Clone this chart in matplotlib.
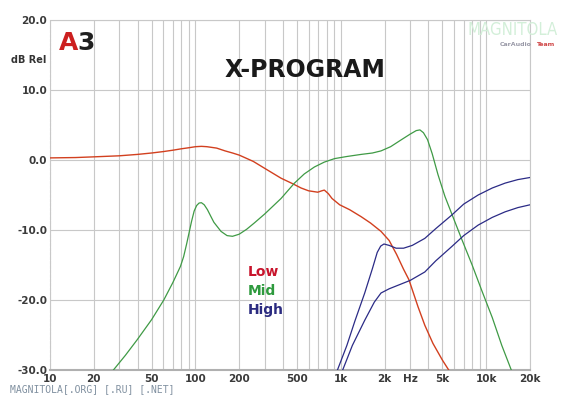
import matplotlib
matplotlib.use("Agg")
import matplotlib.pyplot as plt
from matplotlib.ticker import FixedLocator, NullFormatter

# DATA
low_f = [10, 15, 20, 30, 40, 50, 60, 70, 80, 90, 100, 110, 120, 140, 160, 180, 200,
         250, 300, 388, 468, 533, 600, 694, 740, 770, 820, 870, 982, 1150, 1380, 1600,
         1890, 2150, 2420, 2700, 2940, 3400, 3780, 4300, 5000, 5600]
low_db = [0.3, 0.35, 0.45, 0.6, 0.8, 1.0, 1.2, 1.4, 1.6, 1.75, 1.9, 1.95, 1.9, 1.7, 1.3,
          1.0, 0.7, -0.2, -1.2, -2.6, -3.4, -4.0, -4.4, -4.6, -4.4, -4.3, -4.8, -5.5, -6.4,
          -7.1, -8.1, -9.0, -10.2, -11.5, -13.5, -15.6, -17.1, -21.0, -23.6, -26.2, -28.6, -30.2]

mid_f = [27.3, 33, 39.7, 50, 60.6, 70, 78.9, 83, 87, 90, 94, 98, 102, 106, 110, 115, 121,
         128, 134, 150, 165, 180, 200, 225, 254, 300, 388, 480, 560, 658, 770, 906, 1100,
         1380, 1650, 1890, 2200, 2610, 3000, 3300, 3500, 3700, 3950, 4250, 4660, 5200,
         5770, 6780, 8000, 9300, 11000, 12800, 15000]
mid_db = [-30, -27.9, -25.7, -22.8, -20.0, -17.5, -15.2, -13.8, -12.0, -10.6, -8.8, -7.3,
          -6.5, -6.15, -6.1, -6.4, -7.1, -8.1, -8.9, -10.2, -10.8, -10.9, -10.6, -9.9, -9.0,
          -7.7, -5.5, -3.3, -2.0, -1.0, -0.3, 0.2, 0.5, 0.8, 1.0, 1.3, 1.9, 2.9, 3.7, 4.2,
          4.3, 3.9, 2.9, 0.9, -2.1, -5.2, -7.6, -11.3, -15.0, -18.6, -22.5, -26.5, -30.2]

high1_f = [948, 1100, 1250, 1460, 1650, 1780, 1880, 1980, 2150, 2400, 2700, 3100, 3780,
           4500, 5770, 7000, 8800, 11000, 13500, 16500, 20000]
high1_db = [-30, -26.5, -23, -19.0, -15.5, -13.2, -12.3, -12.0, -12.2, -12.6, -12.6, -12.2,
            -11.2, -9.8, -7.9, -6.3, -5.0, -4.0, -3.3, -2.8, -2.5]

high2_f = [1030, 1200, 1460, 1700, 1890, 2150, 2470, 3000, 3780, 4500, 5770, 7000, 8800,
           11000, 13500, 16500, 20000]
high2_db = [-30, -26.5, -22.9, -20.3, -19.0, -18.4, -17.9, -17.2, -16.0, -14.4, -12.4, -10.8,
            -9.3, -8.2, -7.4, -6.8, -6.4]

xtick_pos = [10, 20, 50, 100, 200, 500, 1000, 2000, 3000, 5000, 10000, 20000]
xtick_lab = ["10", "20", "50", "100", "200", "500", "1k", "2k", "Hz", "5k", "10k", "20k"]
ytick_pos = [20, 10, 0, -10, -20, -30]
ytick_lab = ["20.0", "10.0", "0.0", "-10.0", "-20.0", "-30.0"]

RED = "#d2401f"
GREEN = "#3f9a45"
BLUE = "#2b2b86"

fig = plt.figure(figsize=(5.73, 3.97), dpi=100)
ax = fig.add_axes([50 / 573, 1 - 370 / 397, 480 / 573, 350 / 397])

ax.set_xscale("log")
ax.set_xlim(10, 20000)
ax.set_ylim(-30, 20)

# grid: every 1-2-3..9 decade line, 10 dB horizontals
minor = []
for dec in [10, 100, 1000, 10000]:
    for m in range(1, 10):
        v = dec * m
        if v <= 20000:
            minor.append(v)
for v in minor:
    ax.axvline(v, color="#c8c8c8", lw=0.8, zorder=0)
for y in ytick_pos:
    ax.axhline(y, color="#c8c8c8", lw=0.8, zorder=0)

ax.plot(low_f, low_db, color=RED, lw=1.0, zorder=3)
ax.plot(mid_f, mid_db, color=GREEN, lw=0.9, zorder=3)
ax.plot(high1_f, high1_db, color=BLUE, lw=0.9, zorder=3)
ax.plot(high2_f, high2_db, color=BLUE, lw=0.9, zorder=3)

ax.xaxis.set_major_locator(FixedLocator(xtick_pos))
ax.xaxis.set_minor_locator(FixedLocator([]))
ax.xaxis.set_minor_formatter(NullFormatter())
ax.set_xticks(xtick_pos)
ax.set_xticklabels(xtick_lab)
ax.set_yticks(ytick_pos)
ax.set_yticklabels(ytick_lab)
ax.tick_params(axis="both", length=0, labelsize=7.5, colors="#3a3a3a", pad=2)
ax.tick_params(axis="x", pad=3)
for lab in ax.get_xticklabels() + ax.get_yticklabels():
    lab.set_fontweight("semibold")

ax.spines["top"].set_color("#c8c8c8")
ax.spines["right"].set_color("#c8c8c8")
ax.spines["bottom"].set_color("#b0b0b0")
ax.spines["bottom"].set_linewidth(1.5)
ax.spines["left"].set_color("#c8c8c8")
ax.spines["left"].set_linestyle((0, (2, 2)))

# texts
fig.text(305 / 573, 1 - 70 / 397, "X-PROGRAM", ha="center", va="center",
         fontsize=17, fontweight="bold", color="#1a1a1a", family="DejaVu Sans")
fig.text(11 / 573, 1 - 60 / 397, "dB Rel", ha="left", va="center", fontsize=7,
         fontweight="bold", color="#333333")
fig.text(59 / 573, 1 - 43 / 397, "A", ha="left", va="center", fontsize=18,
         fontweight="heavy", color="#cc1f1f", family="DejaVu Sans")
fig.text(77 / 573, 1 - 43 / 397, "3", ha="left", va="center", fontsize=18,
         fontweight="heavy", color="#1f1f1f", family="DejaVu Sans")

ax.text(228, -16.0, "Low", color="#c8142c", fontsize=10, fontweight="bold", ha="left", va="center")
ax.text(228, -18.7, "Mid", color="#2e9a3e", fontsize=10, fontweight="bold", ha="left", va="center")
ax.text(228, -21.4, "High", color="#2b2b80", fontsize=10, fontweight="bold", ha="left", va="center")

# watermark
fig.text(513 / 573, 1 - 30 / 397, "MAGNITOLA", ha="center", va="center", fontsize=12,
         color="#d3efd9", family="DejaVu Sans", fontstretch="condensed")
fig.text(532 / 573, 1 - 44 / 397, "CarAudio", ha="right", va="center", fontsize=4.5,
         color="#9a9aa8", fontweight="bold")
fig.text(536 / 573, 1 - 44 / 397, "Team", ha="left", va="center", fontsize=4.5,
         color="#d04848", fontweight="bold")
fig.text(10 / 573, 1 - 389 / 397, "MAGNITOLA[.ORG] [.RU] [.NET]", ha="left", va="center",
         fontsize=7, color="#8090a0", family="DejaVu Sans Mono")

fig.savefig("out.png", dpi=100)
